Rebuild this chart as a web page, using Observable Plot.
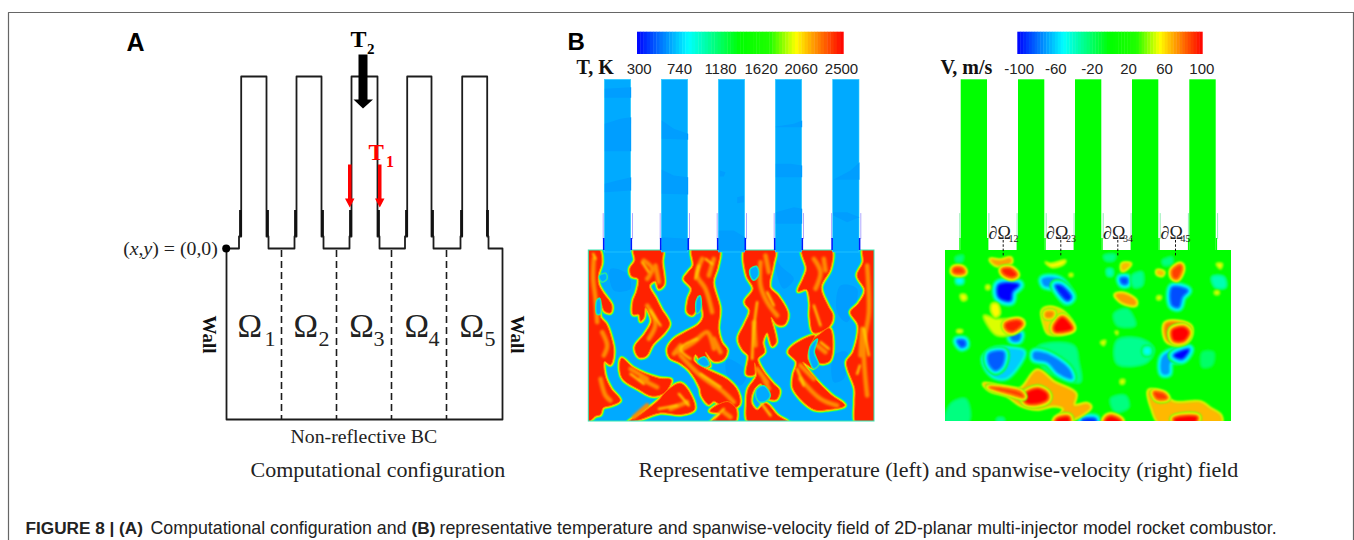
<!DOCTYPE html>
<html><head><meta charset="utf-8">
<script src="https://cdn.jsdelivr.net/npm/d3@7"></script>
<script src="https://cdn.jsdelivr.net/npm/@observablehq/plot@0.6"></script>
<style>
html,body{margin:0;padding:0;background:#fff}
svg{display:block}
</style></head><body><div id="chart"></div>
<script>
// ---------- Panel A geometry (figure units) ----------
const wallOutline=[[226,248],[238.5,248],[238.5,236],[240.7,236],[240.7,76],[266,76],[266,236],[268,236],[268,248],[294,248],[294,236],[296,236],[296,76],[321,76],[321,236],[323,236],[323,248],[349,248],[349,236],[351,236],[351,76],[377,76],[377,236],[379,236],[379,248],[404.5,248],[404.5,236],[406.7,236],[406.7,76],[431,76],[431,236],[433,236],[433,248],[460,248],[460,236],[461.7,236],[461.7,76],[486.7,76],[486.7,236],[488,236],[488,248],[502,248],[502,419],[226,419],[226,248]];
const thickWallX=[240,267,295,322,350,378,406,432,461,487];
const dividerX=[281,336,391,446];
const arrowT2=[[358,54],[367,54],[367,99],[372.5,99],[362.5,108],[353,99],[358,99]];
const arrowT1a=[[347.5,164],[351,164],[351,198],[354,198],[349.3,207],[344.5,198],[347.5,198]];
const arrowT1b=[[377.5,164],[381,164],[381,198],[384,198],[379.3,207],[374.5,198],[377.5,198]];
// ---------- Colour bars ----------
const colorStops=[0,.25,.5,.645,.77,.85,1];
const colorRange=["#0000ff","#00ffff","#00ff00","#20ff00","#ffff00","#ffa000","#ff0000"];
const tTicks=["300","740","1180","1620","2060","2500"];
const tTickX=[638.7,679,720,760.7,800.7,841];
const vTicks=["-100","-60","-20","20","60","100"];
const vTickX=[1018.7,1055.3,1091.7,1128,1164,1201.3];
// ---------- Injector positions ----------
const tInjL=[604.3,661.3,718.3,775.3,832.7], tInjR=[630.7,687.7,744.7,801.7,859];
const vInjL=[960.7,1018,1075,1132,1189.3], vInjR=[987,1044.3,1101.3,1158.3,1215.7];
// ---------- Temperature field: darker patches in the injectors (crop A units) ----------
const tPatches=[
[133,205,212,200,212,232,133,232],[133,310,180,295,212,290,212,392,133,392],[133,490,170,480,212,470,212,510,133,515],
[304,300,340,325,383,340,383,358,304,355],[304,448,340,465,383,470,383,522,304,520],[304,650,383,655,385,690,304,690],
[478,450,495,455,490,468,478,468],[530,530,550,525,550,545,530,548],[475,630,520,630,554,650,554,690,475,690],
[646,318,700,310,725,300,725,320,646,320],[646,430,690,430,725,435,725,470,646,470],[646,575,700,560,725,565,725,610,646,610],
[818,478,870,450,897,425,897,478],[818,575,860,575,897,590,860,605,818,585]];
const tChamberPatches=[[90,70,140,85,150,130,100,135],[580,20,600,60,640,100,610,130,590,90],[780,120,830,130,800,230,770,200],[440,340,500,380,480,420,440,390],[760,330,800,320,790,400,760,410]];
// ---------- Temperature field: flame outlines (crop B units) ----------
const flames=[
[20,10,55,10,64,50,54,85,54,115,67,140,94,180,90,202,72,197,62,175,60,215,77,235,92,275,100,320,90,358,72,348,74,390,92,430,119,465,92,480,68,487,60,507,45,512,20,530],
[160,10,245,10,245,50,250,118,235,130,225,107,207,120,227,160,242,190,267,235,252,262,217,297,197,332,175,335,163,305,193,265,213,225,195,187,190,217,180,227,175,207,158,207,158,165,168,140,173,100,153,92,148,70,163,45],
[335,10,415,10,411,65,398,110,418,190,413,250,423,290,440,315,428,342,400,347,375,320,388,362,370,362,345,327,340,345,372,368,442,403,472,438,477,477,445,492,410,472,400,467,385,477,363,450,358,427,328,377,298,352,268,337,261,310,278,283,318,258,353,238,368,215,363,177,352,152,347,192,335,209,320,200,323,160,333,130,310,100,323,80,338,60],
[123,338,160,368,235,398,272,403,252,442,215,452,175,432,128,402,118,375],
[258,437,300,413,332,450,342,492,300,507,240,502,180,522,143,530,188,500,233,465],
[388,497,440,468,467,490,462,532,390,532,418,505],
[495,10,583,10,578,60,568,125,592,150,622,205,612,237,590,237,572,215,587,290,575,302,560,262,547,290,552,320,532,340,547,375,577,413,597,435,587,462,560,457,542,415,522,430,512,470,530,493,555,473,592,510,625,532,505,532,498,470,503,430,528,390,522,352,522,387,498,387,503,330,488,315,473,280,493,235,508,195,493,170,518,130,498,90],
[665,10,752,10,750,70,722,125,742,180,757,210,747,242,700,262,688,215,688,170,678,132,653,137,668,100,678,70],
[747,248,757,290,747,347,715,352,693,320,688,290,715,268],
[623,320,640,298,702,270,687,305,682,340,697,368,667,350,702,398,752,448,793,480,745,492,700,492,638,430,638,390,648,350],
[848,10,890,10,890,535,828,535,823,470,823,430,798,350,818,320,833,240,810,200,833,175,853,135,830,90,848,50]];
// Blue gaps cut back into the flames
const flameGaps=[[57,92,75,85,78,100,65,108],[510,72,528,64,533,88,520,103,512,93],[352,348,372,335,385,358,372,362],[348,168,358,152,360,190,350,203],[530,432,550,422,568,450,555,466,537,468,527,450],[690,305,710,282,700,320,713,358,700,368,687,335],[50,165,57,160,58,205,50,205]];
// Interior hot-and-cooler streaks (open polylines)
const orangeStreaks=[[40,40,38,100,45,160,50,230],[65,260,80,300,70,330],[60,400,75,450,90,465],[190,45,215,70,200,100],[200,180,225,235,205,280],[365,40,350,90,375,130,395,200],[290,320,340,290,380,260,400,310],[300,330,360,390,430,440,460,470],[180,400,230,425],[270,490,320,470],[540,50,540,120,560,170,590,210],[520,230,525,300],[550,400,565,430],[700,40,720,80,705,130],[710,300,735,320],[660,400,720,460,770,480],[860,60,865,200,850,300,860,450],[430,500,450,515],[150,370,200,400],[300,300,280,325],[225,60,235,110],[400,40,385,90],[200,480,160,515],[555,30,565,80],[730,40,735,75],[845,250,840,330],[400,280,420,320],[700,400,660,360],[530,370,560,410]];
const yellowStreaks=[[38,25,45,40],[185,50,205,80],[210,195,240,240],[355,60,345,100],[375,40,395,55],[350,280,300,310,330,340],[360,385,420,425],[150,385,190,415],[295,445,325,480],[235,490,290,480],[530,170,520,250,515,340],[560,140,580,180],[700,180,720,240],[720,290,745,310],[650,370,670,420],[838,360,830,385],[850,250,865,330],[430,490,400,520],[540,470,570,510]];
// ---------- Velocity field: blobs with peak speed (crop C units) ----------
const vPeak=[90,50,70,95,55,50,50,52,52,55,95,62,100,75,66,72,50,50,66,88,78,100,52,50,50,50,68,100,88,66,90,100,100,100];
const vBlobsPos=[
[40,68,65,68,72,80,55,85,38,80],
[130,210,170,220,250,225,215,265,170,270,145,245],
[150,42,180,45,210,38,212,50,190,60,165,58],
[185,72,210,70,228,88,215,95,190,85],
[315,50,330,55,375,45,370,55,335,65],
[387,85,396,85,396,92,387,92],
[137,120,147,120,147,131,137,131],
[60,148,75,148,78,162,65,165],
[50,254,65,254,65,260,50,260],
[155,175,170,175,178,205,165,215,152,195],
[195,235,235,225,245,235,215,258,197,250],
[305,195,325,185,370,200,400,250,325,265,310,235],
[340,245,365,215,392,240,395,250,345,258],
[315,200,340,200,335,215,315,215],
[545,55,570,55,555,72,545,75],
[525,148,550,145,585,165,585,178,545,170],
[480,290,495,285,490,300],
[524,258,532,258,530,268],
[650,75,670,80,665,90,650,85],
[695,75,720,58,725,70,710,100,697,95],
[675,235,710,230,750,245,745,280,715,295,680,285],
[695,255,730,245,745,260,730,285,700,285],
[828,55,845,55,840,70],
[823,137,835,137,835,146,823,146],
[650,152,662,152,660,162,650,162],
[540,403,552,403,550,415,540,415],
[130,415,190,425,240,430,290,375,340,410,405,445,400,480,440,475,450,485,390,525,340,535,370,490,340,480,290,490,240,478,200,450,150,435],
[250,450,290,430,320,445,320,462,285,475,255,470],
[145,425,240,440,250,455,210,445],
[625,435,660,440,700,470,780,470,810,490,840,510,840,535,660,535,635,490],
[640,440,670,445,680,458,650,460],
[700,520,770,515,760,535,710,535],
[350,520,385,515,385,535,345,535],
[495,522,510,512,540,525,540,535,495,535]];
const vPeakNeg=[-24,-50,-100,-72,-95,-85,-35,-28,-85,-85,-80,-60,-82,-26,-75,-28,-48,-70,-100,-25,-35,-20,-25,-25,-90,-26,-26,-25];
const vBlobsNeg=[
[45,35,68,30,65,48,48,50],
[50,100,65,100,65,112,50,112],
[175,118,235,118,215,140,210,165,175,155],
[305,100,355,100,395,155,375,168,345,130,310,120],
[345,120,360,120,392,155,380,165],
[540,98,560,98,560,115,545,115],
[500,72,515,72,515,90,502,90],
[575,90,605,80,605,120,580,125],
[695,125,742,135,725,155,715,185,695,180],
[50,285,72,285,75,300,62,305],
[210,270,240,265,235,285,215,285],
[130,335,165,310,215,310,250,320,200,395,165,395,135,365],
[145,325,190,320,185,360,165,375,145,355],
[290,305,400,300,415,350,420,410,370,400,310,370],
[280,320,320,325,385,370,395,400,355,385,320,350,280,340],
[530,285,600,280,640,310,620,350,530,355],
[612,308,628,308,628,325,612,325],
[665,335,700,315,745,315,720,345,690,350,685,385,665,385],
[700,330,745,312,725,340],
[520,205,560,190,585,240,530,240],
[815,95,850,95,855,125,825,125],
[785,320,820,320,815,360,785,365],
[510,460,555,450,565,485,525,500],
[15,535,30,475,75,460,90,510,80,535],
[425,522,465,520,465,535,430,535],
[170,518,190,518,190,535,170,535],
[490,30,525,28,520,45,495,45],
[665,45,695,35,695,55,670,60]];
const vBandsPos=[34,45,54,65,80];
const vBandsNeg=[-8,-16,-25,-40,-50,-70];
// ---------- Text ----------
const partialLabels=[{t:"∂Ω",x:988,sub:"12"},{t:"∂Ω",x:1045.5,sub:"23"},{t:"∂Ω",x:1102.5,sub:"34"},{t:"∂Ω",x:1160,sub:"45"}];
const dashX=[1002.7,1060.3,1117.3,1175];
const omegaX=[237,293,348.7,404,459], omegaSubX=[264,318,373,428,484], omegaSub=["1","2","3","4","5"];

// ---------- helpers ----------
const X=d=>d[0],Y=d=>d[1];
const norm=(v,a,b)=>(v-a)/(b-a);
const rows=(list,fx,fy,of)=>list.flatMap((p,i)=>{const out=[];for(let k=0;k<p.length;k+=2)out.push({x:fx(p[k]),y:fy(p[k+1]),id:i,...(of?of(i):{})});return out;});
const A2=v=>560+v/3, A2y=v=>20+v/3;
const Bx=v=>580+v/3, By=v=>245+v/3;
const Cx=v=>940+v/3, Cy=v=>245+v/3;
const px=d=>d.x,py=d=>d.y;
const poly=(data,o)=>Plot.line(data,{x:px,y:py,z:"id",...o});
const soft=id=>({render:(i,s,v,d,c,next)=>{const g=next(i,s,v,d,c);g.setAttribute("filter",`url(#${id})`);return g;}});

const barCells=(x0,x1)=>d3.range(64).map(i=>({t:(i+.5)/64,a:x0+(x1-x0)*i/64,b:x0+(x1-x0)*(i+1)/64+.4,top:31.7,bot:54}));
const rect=(list,fill,o={})=>Plot.rect(list,{x1:d=>d.a,x2:d=>d.b,y1:d=>d.top,y2:d=>d.bot,fill,...o});
const injRects=(L,R,top,bot)=>L.map((l,i)=>({a:l,b:R[i],top,bot}));
const label=(data,font)=>Plot.text(data,{x:d=>d.x,y:d=>d.y,text:d=>d.t,lineAnchor:"bottom",textAnchor:"start",...font});
const gapsBetween=(L,R,x0,x1,top,bot)=>{const e=[x0,...R],s=[...L,x1];return e.map((a,i)=>({a,b:s[i],top,bot}));};

const flameRows=rows(flames,Bx,By);
const gapRows=rows(flameGaps,Bx,By);
const posRows=rows(vBlobsPos,Cx,Cy,i=>({peak:vPeak[i]}));
const negRows=rows(vBlobsNeg,Cx,Cy,i=>({peak:vPeakNeg[i]}));
const lvl=v=>norm(v,-100,100);

const marks=[];
// figure frame
marks.push(Plot.line([[8,540],[8,12],[1353,12],[1353,540]],{x:X,y:Y,stroke:"#666",strokeWidth:1.2}));
// Panel A
marks.push(Plot.line(wallOutline,{x:X,y:Y,stroke:"#1c1c1c",strokeWidth:1.8}));
marks.push(Plot.ruleX(thickWallX,{x:d=>d,y1:()=>210,y2:()=>236,stroke:"#111",strokeWidth:2.8}));
marks.push(Plot.ruleX(dividerX,{x:d=>d,y1:()=>250,y2:()=>419,stroke:"#1c1c1c",strokeWidth:1.6,strokeDasharray:"7,4"}));
marks.push(Plot.dot([[225.7,248]],{x:X,y:Y,r:4,fill:"#000"}));
marks.push(Plot.line(arrowT2,{x:X,y:Y,fill:"#000",stroke:"none",curve:"linear-closed"}));
marks.push(Plot.line(arrowT1a,{x:X,y:Y,fill:"#f00",stroke:"none",curve:"linear-closed"}));
marks.push(Plot.line(arrowT1b,{x:X,y:Y,fill:"#f00",stroke:"none",curve:"linear-closed"}));

// Panel B colour bars
marks.push(rect(barCells(637,843.3),d=>d.t));
marks.push(rect(barCells(1017.3,1202.3),d=>d.t));
// T field base
marks.push(rect([{a:588.3,b:874,top:250,bot:421}],"#00aaff"));
const closed={curve:"catmull-rom-closed",strokeLinejoin:"round"};
const tf=soft("softT"), ts=soft("softS");
marks.push(poly(rows(tChamberPatches,Bx,By),{...tf,...closed,fill:"#009eff",stroke:"none"}));
marks.push(poly(flameRows,{...tf,...closed,stroke:"#00f0a0",strokeWidth:5.4}));
marks.push(poly(flameRows,{...tf,...closed,stroke:"#90ff00",strokeWidth:3.8}));
marks.push(poly(flameRows,{...tf,...closed,stroke:"#ffd000",strokeWidth:2.4}));
marks.push(poly(flameRows,{...tf,...closed,fill:"#ff2400",stroke:"#ff7000",strokeWidth:1}));
marks.push(poly(rows(orangeStreaks,Bx,By),{...ts,stroke:"#ff8a00",strokeWidth:4.5,strokeLinecap:"round",curve:"catmull-rom"}));
marks.push(poly(rows(yellowStreaks,Bx,By),{...ts,stroke:"#ffd800",strokeWidth:2.2,strokeLinecap:"round",curve:"catmull-rom"}));
marks.push(poly(gapRows,{...tf,...closed,stroke:"#40f070",strokeWidth:2.4}));
marks.push(poly(gapRows,{...tf,...closed,fill:"#00aaff",stroke:"#00d8e8",strokeWidth:.8}));
// trim around T chamber
marks.push(rect([{a:560,b:588.3,top:236,bot:436},{a:874,b:915,top:236,bot:436},{a:560,b:915,top:421,bot:436}],"#fff"));
marks.push(rect(gapsBetween(tInjL,tInjR,560,915,236,250),"#fff"));
// chamber edge and injectors
marks.push(rect([{a:588.3,b:874,top:250,bot:421}],"none",{stroke:"#30e8b0",strokeWidth:1}));
marks.push(rect(injRects(tInjL,tInjR,79.3,252),"#00aaff",{stroke:"#30d0ff",strokeWidth:.6}));
marks.push(poly(rows(tPatches,A2,A2y),{fill:"#009eff",stroke:"none",curve:"linear-closed"}));
tInjL.forEach((l,i)=>{const r=tInjR[i];
 marks.push(Plot.line([[l-1.6,213],[l-1.6,238]],{x:X,y:Y,stroke:"#b0a8ff",strokeWidth:1}));
 marks.push(Plot.line([[r+1.3,213],[r+1.3,238]],{x:X,y:Y,stroke:"#b0a8ff",strokeWidth:1}));
 marks.push(Plot.rect([{a:l-1.4,b:l+.2,top:238,bot:250},{a:r-.2,b:r+1.4,top:238,bot:250}],{x1:d=>d.a,x2:d=>d.b,y1:d=>d.top,y2:d=>d.bot,fill:"#0018ff"}));
});

// V field base
marks.push(rect([{a:945,b:1231,top:250,bot:421}],"#00ff00"));
const vf=soft("softV");
const blob=(data,levels,sign)=>d3.groups(data,d=>d.id).flatMap(([id,g])=>{
 const p=g[0].peak,out=[];
 levels.forEach(L=>{ if(sign*p>sign*L) out.push(poly(g,{...vf,...closed,stroke:()=>lvl(L),strokeWidth:Math.abs(p-L)*.13})); });
 out.push(poly(g,{...vf,...closed,fill:()=>lvl(p),stroke:"none"}));
 return out;
});
marks.push(...blob(negRows,vBandsNeg,-1));
marks.push(...blob(posRows,vBandsPos,1));
// trim around V chamber
marks.push(rect([{a:925,b:945,top:236,bot:436},{a:1231,b:1255,top:236,bot:436},{a:925,b:1255,top:421,bot:436}],"#fff"));
marks.push(rect(gapsBetween(vInjL,vInjR,925,1255,236,250),"#fff"));
marks.push(rect(injRects(vInjL,vInjR,79.3,252),"#00ff00"));
vInjL.forEach((l,i)=>{const r=vInjR[i];
 marks.push(Plot.line([[l-1.4,213],[l-1.4,238]],{x:X,y:Y,stroke:"#90f0b0",strokeWidth:1}));
 marks.push(Plot.line([[r+1.4,213],[r+1.4,238]],{x:X,y:Y,stroke:"#90f0b0",strokeWidth:1}));
 marks.push(Plot.rect([{a:l-1.4,b:l,top:238,bot:250},{a:r,b:r+1.4,top:238,bot:250}],{x1:d=>d.a,x2:d=>d.b,y1:d=>d.top,y2:d=>d.bot,fill:"#00ff00"}));
});
marks.push(Plot.ruleX(dashX,{x:d=>d,y1:()=>240,y2:()=>256,stroke:"#111",strokeWidth:1,strokeDasharray:"2.5,1.8"}));

// Text
const sans={fontFamily:"Liberation Sans"},serif={fontFamily:"Liberation Serif"};
marks.push(label([{t:"A",x:126,y:50}],{...sans,fontSize:25,fontWeight:"bold",fill:"#000"}));
marks.push(label([{t:"B",x:567,y:49.5}],{...sans,fontSize:24,fontWeight:"bold",fill:"#000"}));
marks.push(label([{t:"T",x:350,y:46.5}],{...serif,fontSize:24,fontWeight:"bold",fill:"#000"}));
marks.push(label([{t:"2",x:366.5,y:53}],{...serif,fontSize:15,fontWeight:"bold",fill:"#000"}));
marks.push(label([{t:"T",x:368,y:159}],{...serif,fontSize:23,fontWeight:"bold",fill:"#f00"}));
marks.push(label([{t:"1",x:385.5,y:166}],{...serif,fontSize:16,fontWeight:"bold",fill:"#f00"}));
marks.push(label([{t:"(",x:122.7,y:254},{t:",",x:138.1,y:254},{t:") = (0,0)",x:151.8,y:254}],{...serif,fontSize:19.8,fill:"#222"}));
marks.push(label([{t:"x",x:129.3,y:254},{t:"y",x:143,y:254}],{...serif,fontSize:19.8,fontStyle:"italic",fill:"#222"}));
marks.push(label(omegaX.map(x=>({t:"Ω",x,y:336.7})),{...serif,fontSize:33,fill:"#222"}));
marks.push(label(omegaSub.map((t,i)=>({t,x:omegaSubX[i],y:345})),{...serif,fontSize:22,fill:"#222"}));
marks.push(Plot.text([{t:"Wall",x:209,y:334},{t:"Wall",x:517,y:334}],{x:d=>d.x,y:d=>d.y,text:d=>d.t,rotate:90,...serif,fontSize:19,fontWeight:"bold",fill:"#111"}));
marks.push(label([{t:"Non-reflective BC",x:290,y:442}],{...serif,fontSize:19.8,fill:"#222"}));
marks.push(label([{t:"Computational configuration",x:250,y:476.7},{t:"Representative temperature (left) and spanwise-velocity (right) field",x:638,y:476.7}],{...serif,fontSize:22,fill:"#222"}));
marks.push(label([{t:"T, K",x:576,y:73}],{...serif,fontSize:20,fontWeight:"bold",fill:"#111"}));
marks.push(label([{t:"V, m/s",x:940,y:73}],{...serif,fontSize:20,fontWeight:"bold",fill:"#111"}));
marks.push(Plot.text(tTicks.map((t,i)=>({t,x:tTickX[i]})).concat(vTicks.map((t,i)=>({t,x:vTickX[i]}))),{x:d=>d.x,y:()=>73,text:d=>d.t,lineAnchor:"bottom",...sans,fontSize:15,fill:"#222"}));
marks.push(label(partialLabels.map(d=>({t:d.t,x:d.x,y:238})),{...serif,fontSize:18,fill:"#222"}));
marks.push(label(partialLabels.map(d=>({t:d.sub,x:d.x+20,y:241})),{...serif,fontSize:10,fill:"#222"}));
// Caption
const cap={...sans,fontSize:17.8,fill:"#222"};
marks.push(label([{t:"FIGURE 8 | (A)",x:25,y:533}],{...cap,fontSize:17.2,fontWeight:"bold"}));
marks.push(label([{t:"(B)",x:411,y:533}],{...cap,fontSize:17.2,fontWeight:"bold"}));
marks.push(label([{t:"Computational configuration and",x:150,y:533},{t:"representative temperature and spanwise-velocity field of 2D-planar multi-injector model rocket combustor.",x:439,y:533}],cap));

const chart=Plot.plot({width:1354,height:540,margin:0,
 x:{domain:[0,1354],axis:null},y:{domain:[540,0],axis:null},
 color:{type:"linear",domain:colorStops,range:colorRange},
 style:{background:"#fff"},marks});
document.getElementById("chart").append(chart);
// soft edges of the photographed field plots
const defs=d3.select(chart).append("defs");
[["softT",.55],["softS",1.1],["softV",1.1]].forEach(([id,s])=>{
 defs.append("filter").attr("id",id).attr("filterUnits","userSpaceOnUse").attr("x",0).attr("y",0).attr("width",1354).attr("height",540)
  .append("feGaussianBlur").attr("stdDeviation",s);
});
</script></body></html>
